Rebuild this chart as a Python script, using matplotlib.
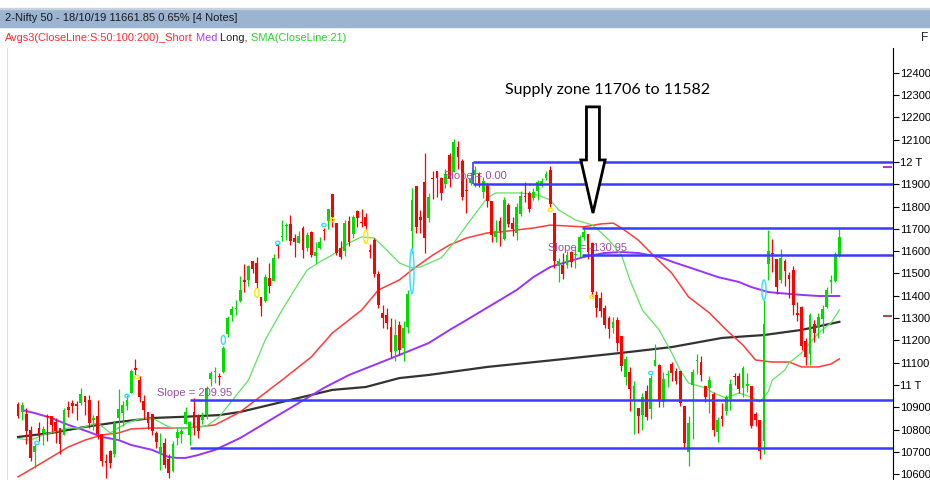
import matplotlib
matplotlib.use("Agg")
import matplotlib.pyplot as plt
from matplotlib.patches import Rectangle, Ellipse

# ==== candles (daily, 31/12/18 .. 18/10/19) ====
dates = ["31/12/18",
 "01/01/19", "02/01/19", "03/01/19", "04/01/19", "07/01/19", "08/01/19", "09/01/19", "10/01/19", "11/01/19",
 "14/01/19", "15/01/19", "16/01/19", "17/01/19", "18/01/19", "21/01/19", "22/01/19", "23/01/19", "24/01/19",
 "25/01/19", "28/01/19", "29/01/19", "30/01/19", "31/01/19",
 "01/02/19", "04/02/19", "05/02/19", "06/02/19", "07/02/19", "08/02/19", "11/02/19", "12/02/19", "13/02/19",
 "14/02/19", "15/02/19", "18/02/19", "19/02/19", "20/02/19", "21/02/19", "22/02/19", "25/02/19", "26/02/19",
 "27/02/19", "28/02/19",
 "01/03/19", "05/03/19", "06/03/19", "07/03/19", "08/03/19", "11/03/19", "12/03/19", "13/03/19", "14/03/19",
 "15/03/19", "18/03/19", "19/03/19", "20/03/19", "22/03/19", "25/03/19", "26/03/19", "27/03/19", "28/03/19",
 "29/03/19",
 "01/04/19", "02/04/19", "03/04/19", "04/04/19", "05/04/19", "08/04/19", "09/04/19", "10/04/19", "11/04/19",
 "12/04/19", "15/04/19", "16/04/19", "18/04/19", "22/04/19", "23/04/19", "24/04/19", "25/04/19", "26/04/19",
 "30/04/19",
 "02/05/19", "03/05/19", "06/05/19", "07/05/19", "08/05/19", "09/05/19", "10/05/19", "13/05/19", "14/05/19",
 "15/05/19", "16/05/19", "17/05/19", "20/05/19", "21/05/19", "22/05/19", "23/05/19", "24/05/19", "27/05/19",
 "28/05/19", "29/05/19", "30/05/19", "31/05/19",
 "03/06/19", "04/06/19", "06/06/19", "07/06/19", "10/06/19", "11/06/19", "12/06/19", "13/06/19", "14/06/19",
 "17/06/19", "18/06/19", "19/06/19", "20/06/19", "21/06/19", "24/06/19", "25/06/19", "26/06/19", "27/06/19",
 "28/06/19",
 "01/07/19", "02/07/19", "03/07/19", "04/07/19", "05/07/19", "08/07/19", "09/07/19", "10/07/19", "11/07/19",
 "12/07/19", "15/07/19", "16/07/19", "17/07/19", "18/07/19", "19/07/19", "22/07/19", "23/07/19", "24/07/19",
 "25/07/19", "26/07/19", "29/07/19", "30/07/19", "31/07/19",
 "01/08/19", "02/08/19", "05/08/19", "06/08/19", "07/08/19", "08/08/19", "09/08/19", "13/08/19", "14/08/19",
 "16/08/19", "19/08/19", "20/08/19", "21/08/19", "22/08/19", "23/08/19", "26/08/19", "27/08/19", "28/08/19",
 "29/08/19", "30/08/19",
 "03/09/19", "04/09/19", "05/09/19", "06/09/19", "09/09/19", "11/09/19", "12/09/19", "13/09/19", "16/09/19",
 "17/09/19", "18/09/19", "19/09/19", "20/09/19", "23/09/19", "24/09/19", "25/09/19", "26/09/19", "27/09/19",
 "30/09/19",
 "01/10/19", "03/10/19", "04/10/19", "07/10/19", "09/10/19", "10/10/19", "11/10/19", "14/10/19", "15/10/19",
 "16/10/19", "17/10/19", "18/10/19"]

opens = [10913,
 10881, 10868, 10796, 10700, 10805, 10786, 10862, 10859, 10834, 10807, 10777, 10900, 10919, 10915, 10919, 10949,
 10931, 10845, 10859, 10780, 10653, 10702, 10690,
 10851, 10876, 10908, 10965, 11070, 11024, 10930, 10879, 10870, 10783, 10690, 10742, 10666, 10613, 10761, 10782,
 10825, 10775, 10881, 10865,
 10842, 10864, 11025, 11058, 11038, 11059, 11228, 11314, 11342, 11376, 11473, 11473, 11555, 11549, 11395, 11375,
 11481, 11466, 11625,
 11665, 11711, 11721, 11660, 11638, 11704, 11612, 11684, 11577, 11612, 11691, 11736, 11856, 11727, 11612, 11602,
 11736, 11675, 11778,
 11726, 11755, 11605, 11651, 11496, 11322, 11314, 11258, 11151, 11271, 11164, 11262, 11691, 11890, 11752, 11911,
 11748, 11925, 11959, 11929, 11902, 12031,
 11954, 12069, 12005, 11876, 11904, 11940, 11945, 11866, 11899, 11825, 11662, 11735, 11653, 11808, 11725, 11681,
 11768, 11849, 11861,
 11839, 11868, 11890, 11929, 11964, 11770, 11532, 11536, 11536, 11597, 11582, 11596, 11662, 11675, 11636, 11402,
 11388, 11347, 11300, 11256, 11290, 11218, 11035,
 11060, 10930, 10895, 10865, 10974, 10894, 11087, 11089, 10925, 11043, 11094, 11063, 11064, 10905, 10699, 11000,
 11106, 11101, 10996, 10987,
 10960, 10790, 10860, 10883, 10936, 11040, 11039, 10986, 10995, 10995, 10872, 10841, 10747, 11542, 11590, 11564,
 11469, 11556, 11491,
 11515, 11323, 11350, 11196, 11139, 11275, 11257, 11296, 11350, 11464, 11468, 11581]

highs = [10923,
 10924, 10895, 10814, 10741, 10835, 10818, 10870, 10859, 10850, 10808, 10896, 10929, 10931, 10930, 10987, 10949,
 10955, 10866, 10931, 10780, 10690, 10710, 10838,
 10983, 10928, 10956, 11072, 11118, 11042, 10957, 10880, 10872, 10792, 10785, 10762, 10692, 10749, 10808, 10801,
 10902, 10838, 10940, 10870,
 10877, 10995, 11062, 11080, 11053, 11177, 11310, 11353, 11383, 11488, 11543, 11536, 11556, 11573, 11395, 11498,
 11546, 11588, 11630,
 11739, 11727, 11761, 11675, 11689, 11713, 11687, 11692, 11642, 11663, 11704, 11791, 11856, 11727, 11646, 11740,
 11759, 11762, 11786,
 11789, 11770, 11632, 11657, 11509, 11357, 11345, 11300, 11294, 11287, 11287, 11427, 11883, 11891, 11784, 12041,
 11859, 11958, 11959, 11932, 11968, 12039,
 12103, 12095, 12013, 11930, 11954, 11981, 11954, 11931, 11906, 11827, 11738, 11754, 11843, 11815, 11754, 11814,
 11872, 11911, 11871,
 11884, 11917, 11929, 11961, 11982, 11771, 11570, 11593, 11602, 11602, 11618, 11671, 11701, 11677, 11640, 11420,
 11418, 11360, 11310, 11307, 11307, 11220, 11128,
 11080, 11018, 10895, 10965, 10998, 11044, 11182, 11096, 11058, 11068, 11103, 11076, 11064, 10908, 10861, 11071,
 11141, 11129, 10996, 11042,
 10967, 10858, 10920, 10957, 11028, 11055, 11054, 11084, 11052, 10996, 10880, 10845, 11382, 11695, 11655, 11564,
 11611, 11566, 11508,
 11535, 11370, 11354, 11209, 11324, 11292, 11323, 11359, 11439, 11491, 11597, 11699]

lows = [10853,
 10844, 10736, 10661, 10628, 10750, 10733, 10749, 10791, 10739, 10692, 10777, 10856, 10874, 10844, 10911, 10865,
 10808, 10798, 10756, 10639, 10583, 10630, 10678,
 10757, 10815, 10886, 10962, 11043, 10925, 10849, 10802, 10778, 10718, 10620, 10628, 10585, 10611, 10733, 10740,
 10825, 10729, 10775, 10764,
 10823, 10848, 10996, 11009, 10999, 11052, 11214, 11286, 11313, 11370, 11419, 11443, 11503, 11434, 11311, 11374,
 11413, 11465, 11570,
 11644, 11649, 11629, 11576, 11635, 11570, 11600, 11572, 11549, 11611, 11648, 11700, 11710, 11583, 11564, 11578,
 11621, 11661, 11710,
 11707, 11699, 11571, 11484, 11345, 11255, 11251, 11125, 11108, 11136, 11108, 11231, 11591, 11682, 11681, 11591,
 11731, 11836, 11841, 11830, 11884, 11888,
 11953, 11969, 11830, 11769, 11897, 11888, 11887, 11837, 11798, 11642, 11640, 11625, 11651, 11710, 11670, 11651,
 11757, 11821, 11775,
 11830, 11830, 11887, 11917, 11797, 11523, 11461, 11475, 11525, 11531, 11523, 11574, 11649, 11566, 11399, 11303,
 11303, 11257, 11211, 11231, 11152, 11061, 10999,
 10882, 10782, 10783, 10799, 10842, 10849, 11085, 10901, 10902, 10992, 11020, 11004, 10907, 10719, 10637, 10756,
 11049, 11020, 10922, 10874,
 10771, 10746, 10816, 10867, 10889, 10998, 10964, 10945, 10968, 10808, 10814, 10670, 10691, 11471, 11505, 11410,
 11458, 11445, 11390,
 11312, 11285, 11158, 11090, 11090, 11191, 11209, 11233, 11347, 11414, 11460, 11572]

closes = [10862,
 10910, 10792, 10672, 10727, 10771, 10802, 10855, 10821, 10794, 10737, 10886, 10890, 10905, 10907, 10961, 10923,
 10831, 10849, 10780, 10661, 10652, 10651, 10831,
 10894, 10912, 10934, 11062, 11069, 10944, 10888, 10831, 10793, 10746, 10724, 10640, 10604, 10735, 10789, 10792,
 10880, 10835, 10806, 10793,
 10863, 10987, 11053, 11058, 11035, 11168, 11301, 11342, 11343, 11427, 11462, 11532, 11521, 11457, 11354, 11483,
 11445, 11570, 11624,
 11669, 11713, 11644, 11643, 11666, 11605, 11671, 11584, 11597, 11643, 11690, 11787, 11753, 11594, 11575, 11726,
 11642, 11755, 11748,
 11725, 11712, 11598, 11497, 11360, 11302, 11279, 11148, 11222, 11157, 11257, 11407, 11828, 11709, 11738, 11657,
 11844, 11924, 11928, 11861, 11945, 11923,
 12088, 12021, 11843, 11870, 11922, 11965, 11906, 11914, 11823, 11672, 11691, 11691, 11831, 11724, 11699, 11796,
 11847, 11842, 11788,
 11865, 11910, 11916, 11946, 11811, 11558, 11555, 11498, 11582, 11552, 11588, 11662, 11687, 11596, 11419, 11346,
 11331, 11271, 11252, 11284, 11189, 11085, 11118,
 10980, 10997, 10863, 10948, 10855, 11032, 11110, 10926, 11029, 11048, 11053, 11017, 10918, 10741, 10829, 11058,
 11106, 11046, 10948, 11023,
 10798, 10845, 10848, 10947, 11003, 11036, 10982, 11076, 11004, 10818, 10841, 10705, 11274, 11600, 11588, 11441,
 11571, 11512, 11474,
 11359, 11314, 11175, 11126, 11313, 11235, 11305, 11341, 11428, 11464, 11586, 11662]

# ==== moving averages: (candle index, value) ====
sma21_idx = [0, 3, 6, 12, 15, 19, 22, 26, 29, 32, 36, 39, 45, 48, 55, 59, 63, 67, 69, 72, 75, 79, 82, 85, 88,
             91, 94, 96, 101, 104, 108, 112, 114, 120, 124, 127, 129, 133, 137, 139, 141, 144, 146, 149, 153,
             156, 158, 160, 164, 166, 169, 172, 175, 177, 179, 180, 183, 184, 187, 189, 191, 194, 196]
sma21_val = [10760, 10753, 10776, 10807, 10807, 10830, 10785, 10830, 10848, 10852, 10812, 10803, 10816, 10857,
             11022, 11202, 11336, 11457, 11516, 11552, 11583, 11637, 11664, 11659, 11605, 11547, 11525, 11529,
             11570, 11637, 11740, 11839, 11861, 11861, 11852, 11830, 11785, 11740, 11718, 11686, 11650, 11583,
             11471, 11336, 11247, 11144, 11067, 11009, 10987, 10964, 10942, 10964, 10946, 10924, 10969, 11022,
             11067, 11099, 11144, 11188, 11233, 11278, 11336]

sma50_idx = [0, 4, 8, 12, 16, 20, 24, 27, 32, 36, 40, 43, 47, 53, 63, 70, 75, 82, 86, 91, 94, 99, 103, 107,
             112, 115, 123, 127, 135, 139, 142, 144, 148, 152, 156, 160, 165, 169, 173, 176, 180, 184, 187, 191,
             194, 196]
sma50_val = [10588, 10632, 10677, 10722, 10753, 10776, 10785, 10803, 10807, 10807, 10807, 10812, 10821, 10879,
             11022, 11126, 11233, 11336, 11426, 11471, 11516, 11583, 11628, 11659, 11682, 11686, 11704, 11717,
             11709, 11722, 11726, 11704, 11650, 11574, 11502, 11395, 11323, 11247, 11179, 11112, 11103, 11103,
             11081, 11081, 11094, 11117]

sma100_idx = [1, 4, 8, 12, 17, 20, 24, 27, 32, 36, 38, 40, 43, 47, 53, 73, 79, 88, 98, 103, 107, 111, 115,
              119, 123, 127, 131, 135, 140, 144, 148, 153, 157, 162, 167, 172, 175, 179, 181, 187, 191, 196]
sma100_val = [10888, 10874, 10852, 10821, 10789, 10767, 10753, 10731, 10709, 10677, 10673, 10673, 10686, 10709,
              10762, 10987, 11045, 11112, 11188, 11247, 11291, 11336, 11381, 11426, 11484, 11529, 11552, 11574,
              11592, 11596, 11592, 11574, 11547, 11516, 11484, 11462, 11439, 11417, 11413, 11404, 11399, 11399]

sma200_idx = [0, 8, 16, 24, 32, 39, 48, 53, 75, 83, 91, 98, 112, 128, 144, 156, 168, 178, 187, 196]
sma200_val = [10767, 10785, 10812, 10834, 10852, 10857, 10865, 10879, 10978, 10991, 11031, 11045, 11081, 11112,
              11144, 11170, 11211, 11224, 11247, 11283]

# ==== drawn levels / annotations ====
level_vals = [12000, 11901, 11706, 11582, 10933, 10718]
level_start = [108.6, 108.6, 134.6, 134.6, 41, 41]

slope_text = ["Slope = 209.95", "Slope = 0.00", "Slope = -130.95"]
slope_idx = [33.2, 101.7, 126.5]
slope_val = [10964, 11937, 11614]

marker_idx = [94, 178, 49, 57, 83, 75, 127, 137, 73, 62, 4.5, 26, 28.4, 151]
marker_val = [11510, 11426, 11202, 11413, 11664, 11740, 11785, 11395, 11717, 11637, 10740, 10951, 11036, 11054]
marker_h = [200, 90, 40, 40, 60, 15, 15, 15, 15, 15, 15, 15, 15, 15]
marker_col = ["c", "c", "c", "y", "y", "y", "y", "y", "c", "c", "c", "c", "y", "c"]

tick_vals = list(range(10600, 12401, 100))
tick_labels = ["10600", "10700", "10800", "10900", "11 T", "11100", "11200", "11300", "11400", "11500",
               "11600", "11700", "11800", "11900", "12 T", "12100", "12200", "12300", "12400"]

pmark_vals = [11978, 11310]
pmark_cols = ["#b040b0", "#a05050"]

# ==== figure ====
W, H = 930, 480
fig = plt.figure(figsize=(W / 100, H / 100), dpi=100)
fig.patch.set_facecolor("white")
ax = fig.add_axes([7 / W, 0, 886 / W, 432 / H])
ax.set_xlim(-2.63, 208.8)
ax.set_ylim(10574, 12511)

GREEN, RED = "#00dc00", "#ff0000"
x = list(range(len(closes)))
cols = [GREEN if c >= o else RED for o, c in zip(opens, closes)]
ax.vlines(x, lows, highs, colors=cols, lw=0.9, zorder=3)
bottoms = [min(o, c) for o, c in zip(opens, closes)]
heights = [max(abs(c - o), 5) for o, c in zip(opens, closes)]
ax.bar(x, heights, bottom=bottoms, width=0.66, color=cols, linewidth=0, zorder=3)

# moving averages
ax.plot(sma200_idx, sma200_val, color="#333333", lw=1.6, zorder=2)
ax.plot(sma100_idx, sma100_val, color="#9933ff", lw=1.4, zorder=2)
ax.plot(sma50_idx, sma50_val, color="#ff3b3b", lw=1.1, zorder=2)
ax.plot(sma21_idx, sma21_val, color="#5fe35f", lw=0.9, zorder=2)

# markers
for i, v, h, c in zip(marker_idx, marker_val, marker_h, marker_col):
    ec = "#33ddff" if c == "c" else "#ffe600"
    ax.add_patch(Ellipse((i, v), 1.0, h, fill=False, ec=ec, lw=1.0, zorder=4))

# horizontal levels
xr = ax.get_xlim()[1]
ax.hlines(level_vals, level_start, xr, colors="#3b3bff", lw=1.8, zorder=4)
ax.vlines(level_start[0], level_vals[1], level_vals[0], colors="#3b3bff", lw=1.2, zorder=4)

for t, i, v in zip(slope_text, slope_idx, slope_val):
    ax.text(i, v, t, color="#9a4fa0", fontsize=8, family="Liberation Sans", va="center", ha="left", zorder=5)

# price markers at right edge
ax.hlines(pmark_vals, 206.4, 208.5, colors=pmark_cols, lw=1.5, zorder=4)

# supply zone arrow + text
ax.arrow(137.2, 12247, 0, 11771 - 12247, width=3.1, head_width=5.8, head_length=12009 - 11771,
         length_includes_head=True, fc="white", ec="black", lw=2, zorder=6)
ax.text(140.6, 12323, "Supply zone 11706 to 11582", fontsize=11.5, family=["Lato", "DejaVu Sans"],
        ha="center", va="center", color="black", zorder=6)

# axis styling
for s in ["top", "bottom"]:
    ax.spines[s].set_visible(False)
ax.spines["left"].set_color("#dddddd")
ax.spines["right"].set_color("black")
ax.set_xticks([])
ax.yaxis.tick_right()
ax.set_yticks(tick_vals)
ax.set_yticklabels(tick_labels)
ax.tick_params(axis="y", direction="out", length=4, pad=1, labelsize=8, colors="black")
for lbl in ax.get_yticklabels():
    lbl.set_family("Liberation Sans")

# header bar
fig.add_artist(Rectangle((0, 1 - 27 / H), 1, 18 / H, transform=fig.transFigure, color="#9ab4d2", zorder=0))
fig.add_artist(Rectangle((0, 1 - 9 / H), 1, 1 / H, transform=fig.transFigure, color="#c8d2dc", zorder=0))
fig.text(5 / W, 1 - 18 / H, "2-Nifty 50 - 18/10/19 11661.85 0.65% [4 Notes]", fontsize=8.0,
         family="Liberation Sans", color="#1a1a1a", va="center")

parts = [("Avgs3(CloseLine:S:50:100:200)_Short", "#ff2a2a"), (" Med", "#a040ff"),
         (" Long,", "#222222"), (" SMA(CloseLine:21)", "#2ed02e")]
fig.canvas.draw()
r = fig.canvas.get_renderer()
xp = 5.0
for txt, c in parts:
    t = fig.text(xp / W, 1 - 38 / H, txt, fontsize=7.9, family="Liberation Sans", color=c, va="center")
    xp = t.get_window_extent(r).x1
fig.text(1 - 2 / W, 1 - 38 / H, "F", fontsize=8.6, family="Liberation Sans", color="#222222", va="center", ha="right")

fig.savefig("out.png", dpi=100)
